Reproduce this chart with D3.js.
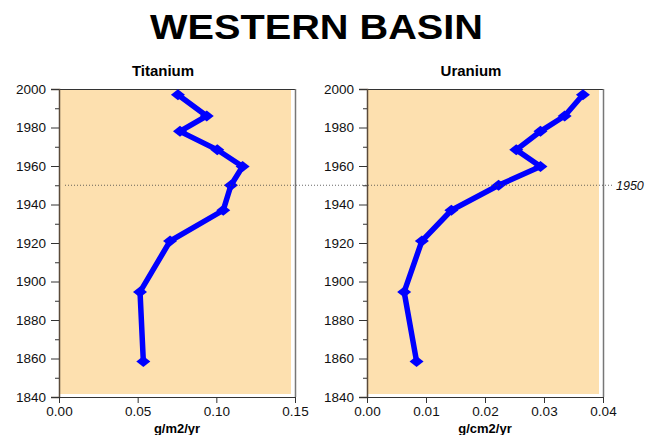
<!DOCTYPE html>
<html><head><meta charset="utf-8">
<script src="https://cdn.jsdelivr.net/npm/d3@7"></script>
<style>body{margin:0;background:#fff}svg{display:block}text{font-family:"Liberation Sans",Arial,sans-serif}</style>
</head><body><svg id="c" width="651" height="435"></svg>
<script>
const years = [1997, 1986, 1978, 1968.4, 1959.7, 1950, 1937, 1921, 1894.6, 1858.5];
const titanium = [0.0756, 0.0939, 0.0769, 0.1006, 0.1167, 0.1093, 0.1044, 0.0706, 0.0515, 0.0536];
const uranium = [0.0366, 0.0335, 0.0294, 0.0253, 0.0294, 0.0223, 0.0143, 0.0093, 0.0063, 0.0084];
const yTicks = [1840, 1860, 1880, 1900, 1920, 1940, 1960, 1980, 2000];
const tiTicks = [0, 0.05, 0.10, 0.15];
const uTicks = [0, 0.01, 0.02, 0.03, 0.04];
const refYear = 1950;

const svg = d3.select("#c");
svg.append("text").attr("x", 316.5).attr("y", 39).attr("text-anchor", "middle")
  .attr("font-size", 35).attr("font-weight", "bold").attr("textLength", 333)
  .attr("lengthAdjust", "spacingAndGlyphs").text("WESTERN BASIN");

const plotTop = 89, plotBottom = 397;
const y = d3.scaleLinear().domain([1840, 2000]).range([plotBottom, plotTop]);

function panel(x0, x1, dom, ticks, vals, title, unit) {
  const x = d3.scaleLinear().domain(dom).range([x0, x1]);
  const g = svg.append("g");
  g.append("rect").attr("x", x0).attr("y", plotTop + 1).attr("width", x1 - x0 - 4)
    .attr("height", plotBottom - plotTop - 4).attr("fill", "#FDE0AF");
  g.append("line").attr("x1", x0).attr("x2", x1).attr("y1", plotTop + 0.5).attr("y2", plotTop + 0.5)
    .attr("stroke", "#333").attr("stroke-width", 1);
  g.append("line").attr("x1", x1 + 0.5).attr("x2", x1 + 0.5).attr("y1", plotTop).attr("y2", plotBottom)
    .attr("stroke", "#777").attr("stroke-width", 1.5);
  const ya = g.append("g").attr("transform", `translate(${x0},0)`)
    .call(d3.axisLeft(y).tickValues(yTicks).tickFormat(d3.format("d")).tickSize(8).tickPadding(5));
  ya.select(".domain").attr("stroke", "#5a4a3a").attr("stroke-width", 1.5);
  ya.selectAll(".tick line").attr("stroke", "#333");
  ya.selectAll("text").attr("font-size", 13.5).attr("fill", "#111").attr("font-family", "Liberation Sans, Arial");
  const minor = d3.range(1850, 2000, 20);
  g.selectAll(null).data(minor).join("line").attr("x1", x0 - 4).attr("x2", x0)
    .attr("y1", d => y(d) + 0.5).attr("y2", d => y(d) + 0.5).attr("stroke", "#333");
  const xa = g.append("g").attr("transform", `translate(0,${plotBottom})`)
    .call(d3.axisBottom(x).tickValues(ticks).tickFormat(d3.format(".2f")).tickSize(6).tickPadding(3));
  xa.select(".domain").attr("stroke", "#333");
  xa.selectAll(".tick line").attr("stroke", "#333");
  xa.selectAll("text").attr("font-size", 13.5).attr("fill", "#111").attr("font-family", "Liberation Sans, Arial");
  g.append("text").attr("x", (x0 + x1) / 2 - 14).attr("y", 76).attr("text-anchor", "middle")
    .attr("font-size", 15).attr("font-weight", "bold").text(title);
  g.append("text").attr("x", (x0 + x1) / 2).attr("y", 433).attr("text-anchor", "middle")
    .attr("font-size", 13).attr("font-weight", "bold").text(unit);
  const pts = years.map((yr, i) => [x(vals[i]), y(yr)]);
  g.append("path").attr("d", d3.line()(pts)).attr("fill", "none").attr("stroke", "#0000FF")
    .attr("stroke-width", 5.5).attr("stroke-linejoin", "miter");
  g.selectAll(null).data(pts).join("path")
    .attr("d", d => `M${d[0]-7},${d[1]} L${d[0]},${d[1]-5.5} L${d[0]+7},${d[1]} L${d[0]},${d[1]+5.5} Z`)
    .attr("fill", "#0000FF");
  return x;
}
panel(59, 295, [0, 0.15], tiTicks, titanium, "Titanium", "g/m2/yr");
panel(367, 603, [0, 0.04], uTicks, uranium, "Uranium", "g/cm2/yr");

svg.append("line").attr("x1", 65).attr("x2", 612).attr("y1", y(refYear)).attr("y2", y(refYear))
  .attr("stroke", "#444").attr("stroke-width", 0.8).attr("stroke-dasharray", "1,2");
svg.append("text").attr("x", 616).attr("y", y(refYear) + 5).attr("font-size", 12.5)
  .attr("font-style", "italic").attr("fill", "#111").text(refYear);
</script></body></html>
